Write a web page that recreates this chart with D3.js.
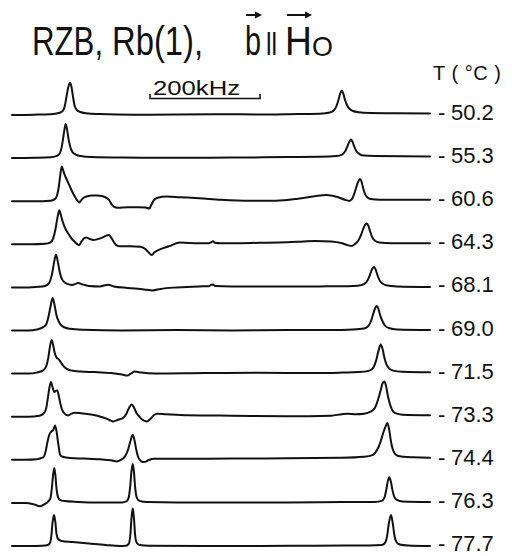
<!DOCTYPE html>
<html>
<head>
<meta charset="utf-8">
<script src="https://cdn.jsdelivr.net/npm/d3@7"></script>
<style>
  html, body { margin: 0; padding: 0; background: #fff; }
  svg { display: block; }
  text { font-family: "Liberation Sans", Arial, sans-serif; fill: #111; }
</style>
</head>
<body>
<svg id="chart" width="516" height="556"></svg>
<script>
// ---- Data (frequency in kHz, amplitude in arbitrary units) ----
const temperatures = ["-50.2", "-55.3", "-60.6", "-64.3", "-68.1", "-69.0", "-71.5", "-73.3", "-74.4", "-76.3", "-77.7"];
const tickLabels = ["50.2", "55.3", "60.6", "64.3", "68.1", "69.0", "71.5", "73.3", "74.4", "76.3", "77.7"];

const spec_50_2 = [[0,0],[40,0.3],[70,0.8],[85,2],[92,4],[96,9],[99,18],[102,27],[105.5,32.5],[108.5,27],[111,18],[114,9],[118,5],[124,3],[135,1.8],[160,1],[220,0.3],[300,0.5],[380,0.8],[450,0.5],[520,1],[560,1.3],[578,2.5],[585,4.5],[590,9],[594,16],[597,22],[599.5,24.5],[602,22],[605,16],[609,10],[614,6],[620,4],[630,2.8],[650,2],[700,1.8],[760,1.6]];
const spec_55_3 = [[0,0],[40,0.3],[70,0.8],[80,2],[86,4],[90,10],[93,20],[95.5,29],[97.6,34],[100,29],[102.5,20],[106,11],[110,6],[116,3.5],[125,2],[145,1],[200,0.5],[300,0.3],[400,0.5],[500,1],[560,1.3],[590,2],[600,3.5],[606,7],[610,12],[613.5,16.5],[616.4,18.5],[619,16.5],[622,12],[626,7],[632,4],[640,2.5],[660,2],[760,1.7]];
const spec_60_6 = [[0,0],[40,0],[70,0.5],[78,2],[82,6],[85,14],[87.5,25],[90.4,34.7],[93,31],[96,26],[100,21],[105,15],[110,9],[115,4],[119,0.5],[122.4,-1.3],[126,1],[130,3.5],[137,5],[145,5.7],[155,5.7],[163,5.3],[170,3.8],[176,1.5],[181,-3],[186,-5.8],[192,-6.5],[210,-6],[230,-6],[243,-6.3],[249.6,-7.2],[253,-4],[258,1],[265,3.5],[281,4.7],[305,4],[340,3],[380,1.5],[433,0.5],[480,0.5],[520,2.5],[550,5],[572,6.3],[590,4.5],[605,1.5],[613,0.3],[618,2],[622,7],[626,14],[629.5,19.5],[632.7,22.2],[635.5,19.5],[638.5,13],[642,7],[646,4],[652,2.3],[670,1.5],[760,1.5]];
const spec_64_3 = [[0,0],[35,0],[60,0.5],[70,2],[75,6],[79,15],[82.5,26],[86,34],[89,29],[92,23],[96,17],[102,11],[108,6],[114,2.5],[119,0],[122.4,-0.7],[126,2.5],[131,6],[135,6.7],[141,5.5],[147.8,4.3],[155,5],[165,7],[172,8.8],[176.4,9.3],[181,6],[186,1.5],[190.4,-1],[196,-2],[215,-2],[233,-2.5],[243,-5],[249,-8.5],[254,-10.7],[259,-8],[269,-5],[285,-2],[305.5,1.7],[340,1],[358,1],[362,2],[365.5,3],[369,1.5],[380,1],[450,1.5],[500,2],[530,2.8],[551,3.3],[581,2.7],[600,1],[610,-0.8],[617.6,-1.7],[624,0.5],[630,4],[635,10],[639,16],[642,19.5],[644.9,20.8],[648,18.5],[651,13],[655,7],[660,3.5],[668,1.8],[690,1],[760,1]];
const spec_68_1 = [[0,0],[30,0],[55,0.8],[64,2.5],[69,6],[73,14],[76.5,25],[80,33],[83.5,25],[87,15],[91,8],[96,5],[103,3],[110,2.5],[115,3.5],[120.5,4.3],[128,3],[140,1.5],[160,1],[175,2.7],[185,1],[210,-0.5],[240,-2],[255.8,-3],[270,-1.5],[300,0],[340,1],[358,1.2],[362,2.5],[365.5,3],[369,1.5],[400,1],[500,0.8],[560,1],[620,1.5],[636,2.5],[644,5],[649,10],[653,16],[655.5,19],[658.2,20.3],[661,18],[664,13],[667.5,8],[672,4.5],[680,2.2],[700,1],[760,0.5]];
const spec_69_0 = [[0,0],[30,0],[45,1],[55,2.8],[62,6],[66,13],[70,24],[74,32.6],[77.5,25],[81,15],[85,9],[90,5],[96,3],[105,1.8],[130,0.8],[200,0],[300,0.5],[400,0],[500,0.5],[580,0.5],[620,1],[640,2],[648,4.5],[653,10],[657,17],[660,22],[663.1,24.5],[666,22],[669,16],[673,10],[678,5],[685,2.5],[700,1],[760,0.5]];
const spec_71_5 = [[0,0],[30,0],[45,1],[56,3],[62,7],[66,16],[69,27],[72.2,33.7],[75,28],[78,20],[81,16],[84.2,14.7],[88,12],[93,8],[99.5,4.7],[108,3],[125,2],[150,1.5],[180,0.5],[200,-1],[209.6,-2],[216,0],[223.6,2],[235,1],[260,0],[350,0.5],[450,0.8],[550,0.5],[600,1],[630,1.5],[650,3],[657,6],[662,13],[666,22],[670.4,29],[674,24],[677,16],[681,9],[686,5],[693,3],[710,1.8],[760,1.3]];
const spec_73_3 = [[0,0],[30,0],[50,1],[57,3],[62,8],[65,18],[68,29],[70.9,34.7],[73.5,30],[76.9,24.7],[80,26],[82.4,26.3],[85,21],[88,13],[91,7],[93.3,4.7],[98,2],[102.4,1.3],[108,3],[114.5,4],[125,3.5],[140,2.5],[155,1],[172,-2],[178,-3.5],[184,-4.7],[193,-3],[202.4,-1],[208,3],[213,9],[217.6,12.3],[222,9],[226,4],[229.6,1.3],[236,-2.5],[245,-4.7],[252,-2],[258,1.5],[263,3],[280,2.5],[320,1.5],[400,1],[500,0.5],[580,1],[600,2.5],[611,3],[625,2.5],[640,3],[652,5],[660,9],[666,18],[671,28],[673.5,33],[676.9,35.3],[680,31],[683,22],[687,13],[691,7],[697,3.5],[710,2],[760,1.5]];
const spec_74_4 = [[0,0],[25,0],[45,0.5],[52,1.5],[57,2.5],[61,8],[64.2,17],[67.8,25],[72.2,28.7],[74.5,29.5],[76.5,32],[78.2,34.4],[80.5,30],[83.6,18],[86,9],[87.3,5],[92,3],[105.5,1.7],[130,1.2],[160,0.5],[180,-0.5],[190.4,-1.6],[198,0],[205.5,3.4],[211,10],[215.5,19],[219.5,25],[222.5,20],[226,10],[229.6,2.4],[235,-1.5],[240,-2.3],[248,-0.5],[256.9,1],[300,1],[400,1.2],[500,1.5],[600,2],[640,3],[656.4,5],[664,10],[670,18],[675,27],[679,33],[682.4,36.7],[685.5,31],[688,22],[691,13],[695,7],[701,4],[712,3],[730,2.5],[760,2]];
const spec_76_3 = [[0,0],[25,0],[40,-1.5],[50.9,-3.4],[60,-1],[66,1.5],[70,5],[72.5,15],[74.7,28],[76.9,35],[79,27],[81,14],[83.5,6],[87,3],[95,1.8],[120,1],[160,0.5],[200,0.5],[208,1.5],[212,5],[215,17],[217.3,32],[219.5,39],[221.7,31],[224,15],[227,5],[232,2],[245,0.8],[300,0.5],[400,0.5],[500,0.5],[600,0.8],[660,1],[672,2],[677,5],[680.5,13],[683,21],[686,25.6],[689,21],[692,12],[695.5,5.5],[700,3],[710,1.5],[760,1]];
const spec_77_7 = [[0,0],[30,0],[55,0.3],[65,1],[69,3],[71.5,10],[73.8,24],[76.4,31],[78.8,24],[81,12],[84,7],[90,5],[110,4],[140,2.5],[170,1],[196,0],[207,0.3],[212,2],[215,10],[217.3,28],[219.5,37.7],[221.7,28],[224,10],[227,3],[232,1],[250,0.3],[350,0],[450,0],[550,0.3],[650,0.5],[672,1],[678,3],[682,10],[685,22],[689.1,31],[692.5,22],[695.5,10],[699,4],[705,1.5],[720,0.5],[760,0]];

const spectra = [spec_50_2, spec_55_3, spec_60_6, spec_64_3, spec_68_1, spec_69_0, spec_71_5, spec_73_3, spec_74_4, spec_76_3, spec_77_7];

const scaleBarKHz = 200;
const freqDomain = [0, 760];

// ---- Drawing ----
const svg = d3.select("#chart");
svg.append("rect").attr("width", 516).attr("height", 556).attr("fill", "#fff");

const x = d3.scaleLinear().domain(freqDomain).range([12, 430]);
const rowY = d3.scalePoint().domain(temperatures).range([115, 546]);
const amp = d3.scaleLinear().domain([0, 40]).range([0, -40]);

const line = d3.line()
  .x(d => x(d[0]))
  .y(d => amp(d[1]))
  .curve(d3.curveMonotoneX);

const rows = svg.append("g").selectAll("g.row")
  .data(temperatures)
  .join("g")
  .attr("class", "row")
  .attr("transform", t => `translate(0,${rowY(t)})`);

rows.append("path")
  .attr("d", (t, i) => line(spectra[i]))
  .attr("fill", "none")
  .attr("stroke", "#111")
  .attr("stroke-width", 2)
  .attr("stroke-linejoin", "round")
  .attr("stroke-linecap", "round");

const lab = rows.append("text")
  .attr("y", 5)
  .attr("font-size", 22);
lab.append("tspan").attr("x", 438).text("-");
lab.append("tspan").attr("x", 451).text((t, i) => tickLabels[i]);

// Title (horizontally condensed glyphs)
const title = svg.append("g");
function condensed(txt, x0, y0, size, sx) {
  title.append("text")
    .attr("transform", `translate(${x0},${y0}) scale(${sx},1)`)
    .attr("font-size", size)
    .text(txt);
}
condensed("RZB,", 32, 55, 40, 0.78);
condensed("Rb(1),", 112, 55, 40, 0.82);
condensed("b", 245, 55, 40, 0.72);
condensed("ll", 266, 55, 32, 0.78);
condensed("H", 285, 55, 40, 0.93);
condensed("O", 312, 56, 28, 0.96);

// vector arrows
[[246, 262], [287, 312]].forEach(([a, b]) => {
  title.append("line").attr("x1", a).attr("x2", b - 3).attr("y1", 15).attr("y2", 15)
    .attr("stroke", "#111").attr("stroke-width", 2);
  title.append("path").attr("d", `M${b},15 L${b - 7},11.5 L${b - 7},18.5 Z`).attr("fill", "#111");
});

// T (°C)
svg.append("text").attr("x", 433).attr("y", 80).attr("font-size", 20)
  .attr("textLength", 68).attr("lengthAdjust", "spacing").text("T ( °C )");

// scale bar
const sb0 = 251;
const bar = svg.append("g");
bar.append("path")
  .attr("d", `M${x(sb0)},94 V98.5 H${x(sb0 + scaleBarKHz)} V94`)
  .attr("fill", "none").attr("stroke", "#111").attr("stroke-width", 1.6);
bar.append("text").attr("x", 153).attr("y", 95).attr("font-size", 20)
  .attr("textLength", 87).attr("lengthAdjust", "spacingAndGlyphs").text("200kHz");
</script>
</body>
</html>
